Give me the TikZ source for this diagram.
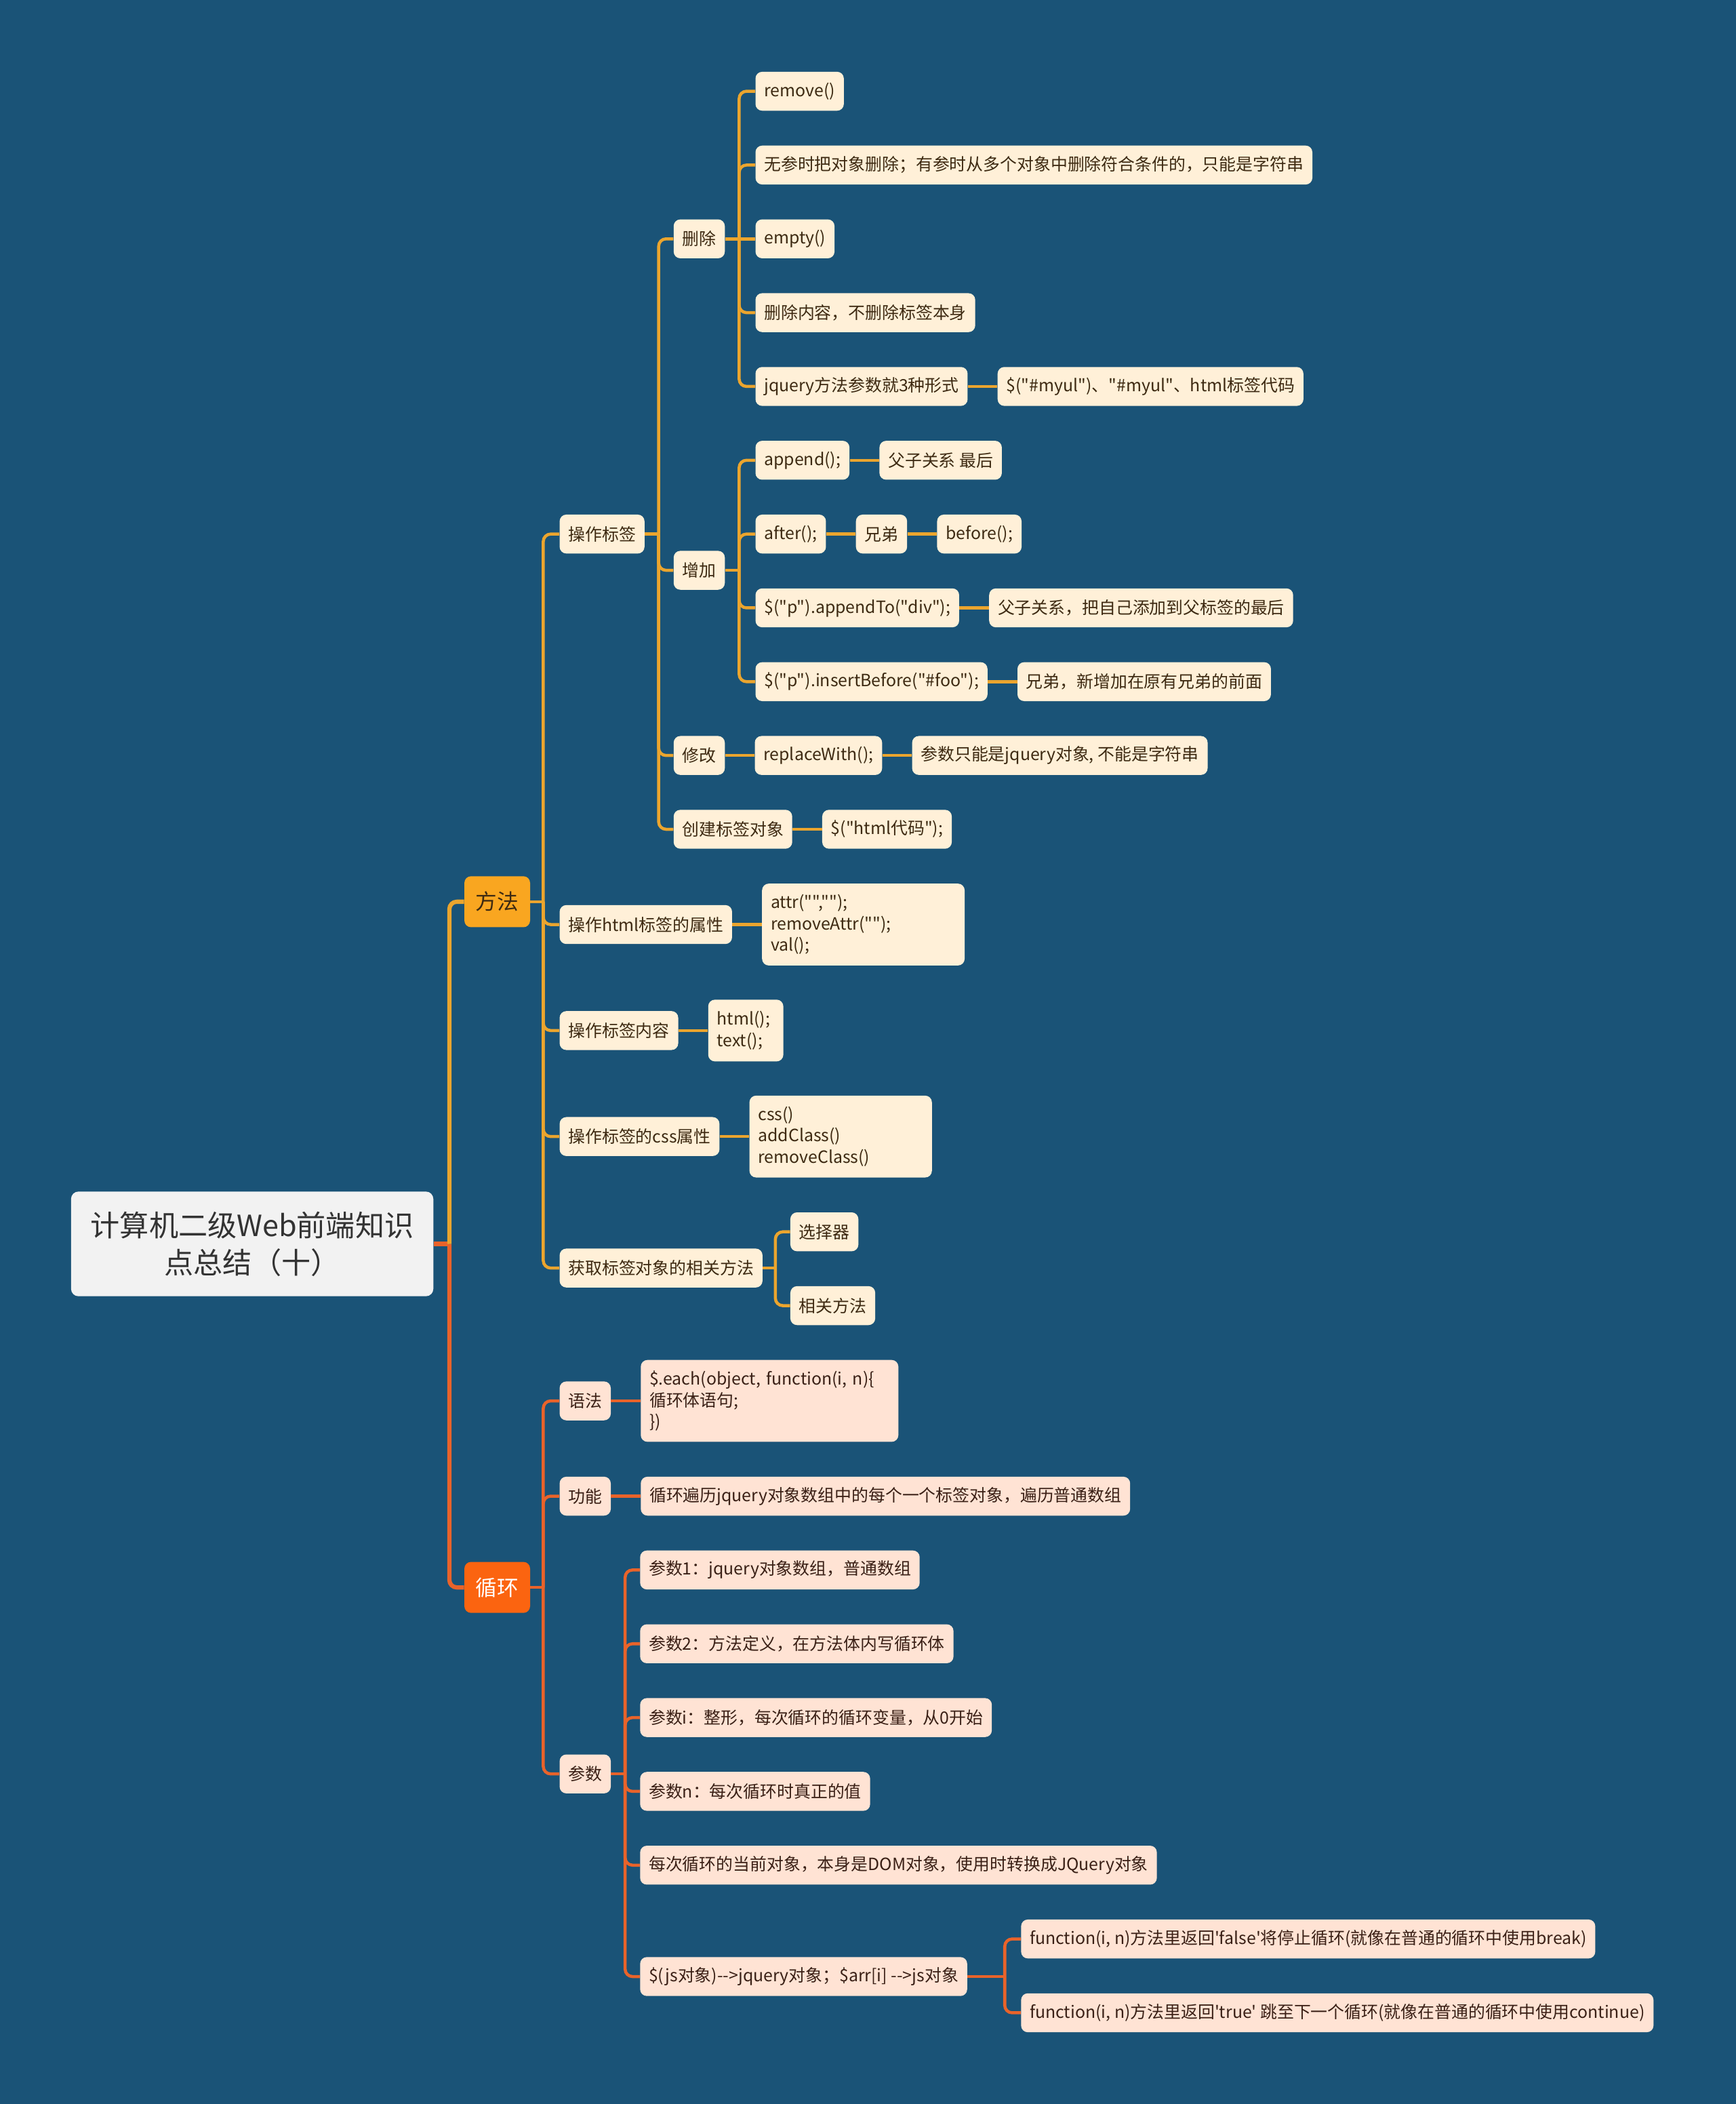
\documentclass[tikz,border=0pt]{standalone}
\usepackage{fontspec}
\usepackage{xcolor}
\usepackage{tikz}
\usetikzlibrary{positioning}
\newfontfamily\cjkfont{Noto Sans CJK SC}

\definecolor{bgblue}{HTML}{1A5377}
\definecolor{lineyel}{HTML}{EBA52E}
\definecolor{lineora}{HTML}{E9632A}
\definecolor{fillyel}{HTML}{F9A620}
\definecolor{fillora}{HTML}{FB6410}
\definecolor{creambox}{HTML}{FFF0D8}
\definecolor{peachbox}{HTML}{FFE3D4}
\definecolor{rootfill}{HTML}{F2F2F2}
\definecolor{inkbrown}{HTML}{3D2A12}
\definecolor{inkred}{HTML}{3A2016}

\begin{document}
\begin{tikzpicture}[
    x=0.04cm, y=-0.04cm,
    root node/.style={rounded corners=0.22cm, fill=rootfill, text=black!80, align=center,
        minimum width=10.8cm, minimum height=3.12cm, text width=10.2cm,
        font=\cjkfont\fontsize{24.8}{31.8}\selectfont},
    main node/.style={rounded corners=0.2cm, minimum height=1.52cm, inner xsep=0.34cm, anchor=west,
        font=\cjkfont\fontsize{18.2}{22}\selectfont},
    leaf/.style={rounded corners=0.2cm, minimum height=1.16cm, inner xsep=0.26cm, inner ysep=0.1cm,
        anchor=west, font=\cjkfont\fontsize{14.3}{18.1}\selectfont},
    ynode/.style={leaf, fill=creambox, text=inkbrown},
    onode/.style={leaf, fill=peachbox, text=inkred},
    ylink/.style={draw=lineyel, line width=2.6pt, rounded corners=0.22cm},
    olink/.style={draw=lineora, line width=2.6pt, rounded corners=0.22cm},
    ytrunk/.style={ylink, line width=3.6pt},
    otrunk/.style={olink, line width=3.6pt}
]

\fill[bgblue] (0,0) rectangle (1294,1568);

% root and the two branches
\node[root node] (root) at (188,927) {计算机二级Web前端知识\\点总结（十）};
\node[main node, fill=fillyel, text=inkbrown] (fangfa) at (346,672) {方法};
\node[main node, fill=fillora, text=white] (xunhuan) at (346,1183) {循环};

% 方法
\node[ynode] (czbq) at (417,398) {操作标签};
\node[ynode] (czsx) at (417,689) {操作html标签的属性};
\node[ynode] (cznr) at (417,768) {操作标签内容};
\node[ynode] (czcss) at (417,847) {操作标签的css属性};
\node[ynode] (hqff) at (417,945) {获取标签对象的相关方法};

\node[ynode] (shanchu) at (502,178) {删除};
\node[ynode] (zengjia) at (502,425) {增加};
\node[ynode] (xiugai) at (502,563) {修改};
\node[ynode] (chuangjian) at (502,618) {创建标签对象};

\node[ynode] (remove) at (563,68) {remove()};
\node[ynode] (removetip) at (563,123) {无参时把对象删除；有参时从多个对象中删除符合条件的，只能是字符串};
\node[ynode] (empty) at (563,178) {empty()};
\node[ynode] (emptytip) at (563,233) {删除内容，不删除标签本身};
\node[ynode] (jqform) at (563,288) {jquery方法参数就3种形式};
\node[ynode, right=0.88cm of jqform] (jqformtip) {\$("\#myul")、"\#myul"、html标签代码};

\node[ynode] (append) at (563,343) {append();};
\node[ynode, right=0.88cm of append] (appendtip) {父子关系 最后};
\node[ynode] (after) at (563,398) {after();};
\node[ynode, right=0.88cm of after] (xiongdi) {兄弟};
\node[ynode, right=0.88cm of xiongdi] (before) {before();};
\node[ynode] (appendto) at (563,453) {\$("p").appendTo("div");};
\node[ynode, right=0.88cm of appendto] (appendtotip) {父子关系，把自己添加到父标签的最后};
\node[ynode] (insert) at (563,508) {\$("p").insertBefore("\#foo");};
\node[ynode, right=0.88cm of insert] (inserttip) {兄弟，新增加在原有兄弟的前面};

\node[ynode, right=0.88cm of xiugai] (replace) {replaceWith();};
\node[ynode, right=0.88cm of replace] (replacetip) {参数只能是jquery对象, 不能是字符串};
\node[ynode, right=0.88cm of chuangjian] (htmlcode) {\$("html代码");};

\node[ynode, align=left, text width=5.52cm, minimum height=2.44cm, right=0.88cm of czsx] (attrcode) {attr("","");\\removeAttr("");\\val();};
\node[ynode, align=left, text width=1.72cm, minimum height=1.84cm, right=0.88cm of cznr] (textcode) {html();\\text();};
\node[ynode, align=left, text width=4.92cm, minimum height=2.44cm, right=0.88cm of czcss] (csscode) {css()\\addClass()\\removeClass()};

\node[ynode] (xzq) at (589,918) {选择器};
\node[ynode] (xgff) at (589,973) {相关方法};

% 循环
\node[onode] (yufa) at (417,1044) {语法};
\node[onode] (gongneng) at (417,1115) {功能};
\node[onode] (canshu) at (417,1322) {参数};

\node[onode, align=left, text width=7.16cm, minimum height=2.44cm, right=0.88cm of yufa] (eachcode) {\$.each(object, function(i, n)\{\\循环体语句;\\\})};
\node[onode, right=0.88cm of gongneng] (gntip) {循环遍历jquery对象数组中的每个一个标签对象，遍历普通数组};

\node[onode] (cs1) at (477,1170) {参数1：jquery对象数组，普通数组};
\node[onode] (cs2) at (477,1225) {参数2：方法定义，在方法体内写循环体};
\node[onode] (csi) at (477,1280) {参数i：整形，每次循环的循环变量，从0开始};
\node[onode] (csn) at (477,1335) {参数n：每次循环时真正的值};
\node[onode] (csdom) at (477,1390) {每次循环的当前对象，本身是DOM对象，使用时转换成JQuery对象};
\node[onode] (csjs) at (477,1473) {\$(js对象)-->jquery对象；\$arr[i] -->js对象};
\node[onode] (fnfalse) at (761,1445) {function(i, n)方法里返回'false'将停止循环(就像在普通的循环中使用break)};
\node[onode] (fntrue) at (761,1500) {function(i, n)方法里返回'true' 跳至下一个循环(就像在普通的循环中使用continue)};

% connectors
\coordinate (rootj) at (335,927);
\draw[otrunk] (root) -- (rootj);
\draw[otrunk] (rootj) |- (xunhuan.west);
\draw[ytrunk] (rootj) |- (fangfa.west);

\coordinate (ffj) at (405,672);
\draw[ylink] (fangfa) -- (ffj);
\draw[ylink] (ffj) |- (czbq.west);
\draw[ylink] (ffj) |- (czsx.west);
\draw[ylink] (ffj) |- (cznr.west);
\draw[ylink] (ffj) |- (czcss.west);
\draw[ylink] (ffj) |- (hqff.west);

\coordinate (bqj) at (491,398);
\draw[ylink] (czbq) -- (bqj);
\draw[ylink] (bqj) |- (shanchu.west);
\draw[ylink] (bqj) |- (zengjia.west);
\draw[ylink] (bqj) |- (xiugai.west);
\draw[ylink] (bqj) |- (chuangjian.west);

\coordinate (scj) at (551,178);
\draw[ylink] (shanchu) -- (empty);
\draw[ylink] (scj) |- (remove.west);
\draw[ylink] (scj) |- (removetip.west);
\draw[ylink] (scj) |- (emptytip.west);
\draw[ylink] (scj) |- (jqform.west);
\draw[ylink] (jqform) -- (jqformtip);

\coordinate (zjj) at (551,425);
\draw[ylink] (zengjia) -- (zjj);
\draw[ylink] (zjj) |- (append.west);
\draw[ylink] (zjj) |- (after.west);
\draw[ylink] (zjj) |- (appendto.west);
\draw[ylink] (zjj) |- (insert.west);
\draw[ylink] (append) -- (appendtip);
\draw[ylink] (after) -- (xiongdi);
\draw[ylink] (xiongdi) -- (before);
\draw[ylink] (appendto) -- (appendtotip);
\draw[ylink] (insert) -- (inserttip);

\draw[ylink] (xiugai) -- (replace);
\draw[ylink] (replace) -- (replacetip);
\draw[ylink] (chuangjian) -- (htmlcode);
\draw[ylink] (czsx) -- (attrcode);
\draw[ylink] (cznr) -- (textcode);
\draw[ylink] (czcss) -- (csscode);

\coordinate (hqj) at (578,945);
\draw[ylink] (hqff) -- (hqj);
\draw[ylink] (hqj) |- (xzq.west);
\draw[ylink] (hqj) |- (xgff.west);

\coordinate (xhj) at (405,1183);
\draw[olink] (xunhuan) -- (xhj);
\draw[olink] (xhj) |- (yufa.west);
\draw[olink] (xhj) |- (gongneng.west);
\draw[olink] (xhj) |- (canshu.west);
\draw[olink] (yufa) -- (eachcode);
\draw[olink] (gongneng) -- (gntip);

\coordinate (csj) at (466,1322);
\draw[olink] (canshu) -- (csj);
\draw[olink] (csj) |- (cs1.west);
\draw[olink] (csj) |- (cs2.west);
\draw[olink] (csj) |- (csi.west);
\draw[olink] (csj) |- (csn.west);
\draw[olink] (csj) |- (csdom.west);
\draw[olink] (csj) |- (csjs.west);

\coordinate (jsj) at (749,1473);
\draw[olink] (csjs) -- (jsj);
\draw[olink] (jsj) |- (fnfalse.west);
\draw[olink] (jsj) |- (fntrue.west);

\end{tikzpicture}
\end{document}
